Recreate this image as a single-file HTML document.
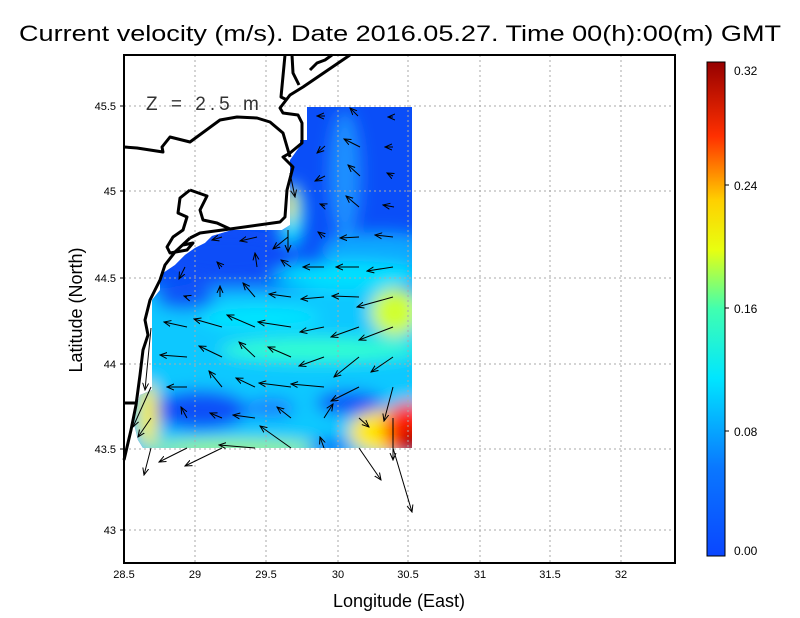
<!DOCTYPE html>
<html><head><meta charset="utf-8"><style>
html,body{margin:0;padding:0;background:#fff;}
svg{display:block;font-family:"Liberation Sans",sans-serif;}
</style></head><body>
<svg width="800" height="618" viewBox="0 0 800 618" xmlns="http://www.w3.org/2000/svg">
<defs>
<clipPath id="m"><polygon points="307,107 412,107 412,448 143,448 138,440 133,420 140,395 152,390 152,300 160,290 160,275 175,265 185,255 195,248 205,243 212,236 232,230 282,230 290,225 290,160 300,146 300,140 307,140"/></clipPath>
<filter id="b" x="-50%" y="-50%" width="200%" height="200%"><feGaussianBlur stdDeviation="8"/></filter>
<linearGradient id="cb" x1="0" y1="1" x2="0" y2="0">
<stop offset="0" stop-color="#0a46ff"/><stop offset="0.18" stop-color="#0a78ff"/><stop offset="0.36" stop-color="#00e6ff"/><stop offset="0.5" stop-color="#40ffb0"/><stop offset="0.62" stop-color="#e8ff10"/><stop offset="0.72" stop-color="#ffd000"/><stop offset="0.85" stop-color="#ff3000"/><stop offset="1" stop-color="#960000"/></linearGradient>
<marker id="ah" markerWidth="8" markerHeight="8" refX="7" refY="4" orient="auto" markerUnits="userSpaceOnUse"><path d="M0,1 L7,4 L0,7" fill="none" stroke="#000" stroke-width="1"/></marker>
</defs>
<text x="400" y="41" font-size="22" text-anchor="middle" textLength="762" lengthAdjust="spacingAndGlyphs">Current velocity (m/s). Date 2016.05.27. Time 00(h):00(m) GMT</text>
<g clip-path="url(#m)">
<rect x="100" y="90" width="340" height="380" fill="#0a4ef8"/>
<g filter="url(#b)">
<rect x="100" y="288" width="340" height="180" fill="#10c8ff"/>
<ellipse cx="345" cy="175" rx="16" ry="65" fill="#1a90ff"/>
<ellipse cx="380" cy="250" rx="60" ry="18" fill="#10a8ff"/>
<ellipse cx="350" cy="275" rx="80" ry="14" fill="#00e0ff"/>
<ellipse cx="292" cy="215" rx="12" ry="32" fill="#00e8ff"/>
<ellipse cx="290" cy="205" rx="6" ry="18" fill="#ffe800"/>
<ellipse cx="230" cy="255" rx="70" ry="25" fill="#0a4ef8"/>
<ellipse cx="395" cy="312" rx="24" ry="24" fill="#d0ff30"/>
<ellipse cx="320" cy="350" rx="100" ry="12" fill="#30ffd0"/>
<ellipse cx="260" cy="318" rx="60" ry="10" fill="#00e8ff"/>
<ellipse cx="200" cy="410" rx="48" ry="20" fill="#0a50f8"/>
<ellipse cx="350" cy="403" rx="34" ry="12" fill="#0a50f8"/>
<ellipse cx="270" cy="408" rx="25" ry="10" fill="#1880ff"/>
<ellipse cx="185" cy="298" rx="30" ry="12" fill="#0a56f8"/>
<ellipse cx="148" cy="415" rx="10" ry="32" fill="#f8f010"/>
<ellipse cx="235" cy="448" rx="90" ry="7" fill="#a8ff50"/>
<ellipse cx="330" cy="447" rx="20" ry="7" fill="#0a50f8"/>
<ellipse cx="385" cy="432" rx="36" ry="22" fill="#ffe800"/>
<ellipse cx="408" cy="430" rx="24" ry="28" fill="#ff2000"/>
<ellipse cx="416" cy="444" rx="16" ry="14" fill="#a00000"/>
</g>
</g>
<g stroke="#aaa" stroke-width="1" stroke-dasharray="2,3">
<line x1="195" y1="55" x2="195" y2="563"/><line x1="266" y1="55" x2="266" y2="563"/><line x1="338" y1="55" x2="338" y2="563"/><line x1="408" y1="55" x2="408" y2="563"/><line x1="480" y1="55" x2="480" y2="563"/><line x1="550" y1="55" x2="550" y2="563"/><line x1="621" y1="55" x2="621" y2="563"/>
<line x1="124" y1="106" x2="675" y2="106"/><line x1="124" y1="191" x2="675" y2="191"/><line x1="124" y1="278" x2="675" y2="278"/><line x1="124" y1="364" x2="675" y2="364"/><line x1="124" y1="449" x2="675" y2="449"/><line x1="124" y1="530" x2="675" y2="530"/>
</g>
<g fill="none" stroke="#000" stroke-width="3" stroke-linejoin="round">
<path d="M285,55 L281,97 L287,100"/>
<path d="M350,55 L303,87 L290,95 L280,108 L283,113 L298,115 L302,123 L302,143 L290,153 L283,157 L293,167 L287,190 L285,217 L280,222 L230,229 L200,233 L190,238"/>
<path d="M292,55 L293,73 L299,85"/>
<path d="M310,70 L317,63 L325,60 L332,55"/>
<path d="M124,147 L137,148 L163,152 L162,147 L170,137 L190,142 L220,120 L237,117 L257,118 L270,122 L283,133 L290,157"/>
<path d="M190,190 L207,196 L200,210 L203,220 L217,223 L230,229"/>
<path d="M190,190 L180,198 L178,213 L187,217 L183,230 L173,237 L167,247 L170,253 L187,250 L193,243 L183,245"/>
<path d="M190,238 L175,252 L165,265 L160,280 L150,300 L145,320 L148,335 L143,350 L140,375 L136,405 L131,430 L124,460"/>
<path d="M124,403 L137,403"/>
</g>
<g stroke="#000" stroke-width="1" marker-end="url(#ah)">
<line x1="325" y1="116" x2="317" y2="116"/><line x1="358" y1="116" x2="350" y2="108"/><line x1="393" y1="117" x2="388" y2="117"/>
<line x1="325" y1="146" x2="317" y2="153"/><line x1="360" y1="147" x2="344" y2="139"/><line x1="393" y1="147" x2="385" y2="147"/>
<line x1="325" y1="176" x2="315" y2="181"/><line x1="360" y1="176" x2="348" y2="165"/><line x1="393" y1="176" x2="387" y2="173"/><line x1="290" y1="173" x2="295" y2="197"/>
<line x1="325" y1="206" x2="320" y2="204"/><line x1="359" y1="207" x2="346" y2="196"/><line x1="394" y1="207" x2="383" y2="205"/>
<line x1="325" y1="237" x2="318" y2="232"/><line x1="359" y1="237" x2="340" y2="238"/><line x1="393" y1="237" x2="375" y2="235"/><line x1="288" y1="230" x2="288" y2="252"/><line x1="288" y1="237" x2="273" y2="249"/><line x1="257" y1="237" x2="240" y2="241"/><line x1="222" y1="237" x2="212" y2="240"/>
<line x1="257" y1="267" x2="255" y2="253"/><line x1="222" y1="267" x2="217" y2="262"/><line x1="291" y1="267" x2="281" y2="260"/><line x1="324" y1="267" x2="303" y2="267"/><line x1="359" y1="267" x2="336" y2="267"/><line x1="393" y1="267" x2="367" y2="271"/><line x1="185" y1="267" x2="179" y2="279"/>
<line x1="220" y1="297" x2="220" y2="286"/><line x1="255" y1="297" x2="243" y2="283"/><line x1="291" y1="297" x2="269" y2="294"/><line x1="324" y1="297" x2="301" y2="299"/><line x1="359" y1="297" x2="332" y2="296"/><line x1="393" y1="297" x2="357" y2="307"/><line x1="187" y1="297" x2="184" y2="296"/>
<line x1="187" y1="327" x2="164" y2="322"/><line x1="222" y1="327" x2="194" y2="319"/><line x1="255" y1="327" x2="227" y2="315"/><line x1="291" y1="327" x2="258" y2="322"/><line x1="324" y1="327" x2="300" y2="332"/><line x1="359" y1="327" x2="331" y2="337"/><line x1="393" y1="327" x2="359" y2="340"/>
<line x1="187" y1="357" x2="160" y2="355"/><line x1="222" y1="357" x2="199" y2="346"/><line x1="255" y1="357" x2="239" y2="342"/><line x1="291" y1="357" x2="268" y2="347"/><line x1="324" y1="357" x2="299" y2="366"/><line x1="359" y1="357" x2="334" y2="377"/><line x1="393" y1="357" x2="371" y2="372"/>
<line x1="151" y1="328" x2="145" y2="390"/>
<line x1="187" y1="387" x2="167" y2="387"/><line x1="222" y1="387" x2="209" y2="371"/><line x1="255" y1="387" x2="236" y2="378"/><line x1="291" y1="387" x2="259" y2="383"/><line x1="324" y1="387" x2="291" y2="384"/><line x1="359" y1="387" x2="331" y2="401"/><line x1="393" y1="387" x2="384" y2="421"/><line x1="151" y1="387" x2="133" y2="427"/>
<line x1="187" y1="418" x2="181" y2="407"/><line x1="222" y1="418" x2="210" y2="413"/><line x1="255" y1="418" x2="233" y2="415"/><line x1="291" y1="418" x2="277" y2="407"/><line x1="324" y1="418" x2="333" y2="404"/><line x1="359" y1="418" x2="369" y2="427"/><line x1="151" y1="418" x2="138" y2="437"/>
<line x1="151" y1="448" x2="144" y2="475"/><line x1="187" y1="448" x2="159" y2="462"/><line x1="222" y1="448" x2="185" y2="466"/><line x1="255" y1="448" x2="219" y2="445"/><line x1="291" y1="448" x2="260" y2="426"/><line x1="324" y1="448" x2="320" y2="437"/><line x1="359" y1="448" x2="381" y2="480"/><line x1="393" y1="418" x2="393" y2="460"/><line x1="393" y1="448" x2="412" y2="512"/>
</g>
<text x="146" y="110" font-size="19" letter-spacing="4" fill="#333">Z = 2.5 m</text>
<rect x="124" y="55" width="551" height="508" fill="none" stroke="#000" stroke-width="2"/>
<g font-size="11" fill="#000" text-anchor="middle">
<text x="124" y="578">28.5</text><text x="195" y="578">29</text><text x="266" y="578">29.5</text><text x="338" y="578">30</text><text x="408" y="578">30.5</text><text x="480" y="578">31</text><text x="550" y="578">31.5</text><text x="621" y="578">32</text>
</g>
<g font-size="11" fill="#000" text-anchor="end">
<text x="116" y="110">45.5</text><text x="116" y="195">45</text><text x="116" y="282">44.5</text><text x="116" y="368">44</text><text x="116" y="453">43.5</text><text x="116" y="534">43</text>
</g>
<g stroke="#000" stroke-width="1">
<line x1="120" y1="106" x2="124" y2="106"/><line x1="120" y1="191" x2="124" y2="191"/><line x1="120" y1="278" x2="124" y2="278"/><line x1="120" y1="364" x2="124" y2="364"/><line x1="120" y1="449" x2="124" y2="449"/><line x1="120" y1="530" x2="124" y2="530"/>
</g>
<text x="399" y="607" font-size="18" text-anchor="middle">Longitude (East)</text>
<text x="0" y="0" font-size="18" text-anchor="middle" transform="translate(82,310) rotate(-90)">Latitude (North)</text>
<rect x="707" y="62" width="18" height="494" fill="url(#cb)" stroke="#000" stroke-width="1"/>
<g font-size="12" fill="#000">
<text x="734" y="75">0.32</text><text x="734" y="190">0.24</text><text x="734" y="313">0.16</text><text x="734" y="436">0.08</text><text x="734" y="555">0.00</text>
</g>
<g stroke="#000"><line x1="725" y1="185" x2="729" y2="185"/><line x1="725" y1="308" x2="729" y2="308"/><line x1="725" y1="431" x2="729" y2="431"/></g>
</svg>
</body></html>
